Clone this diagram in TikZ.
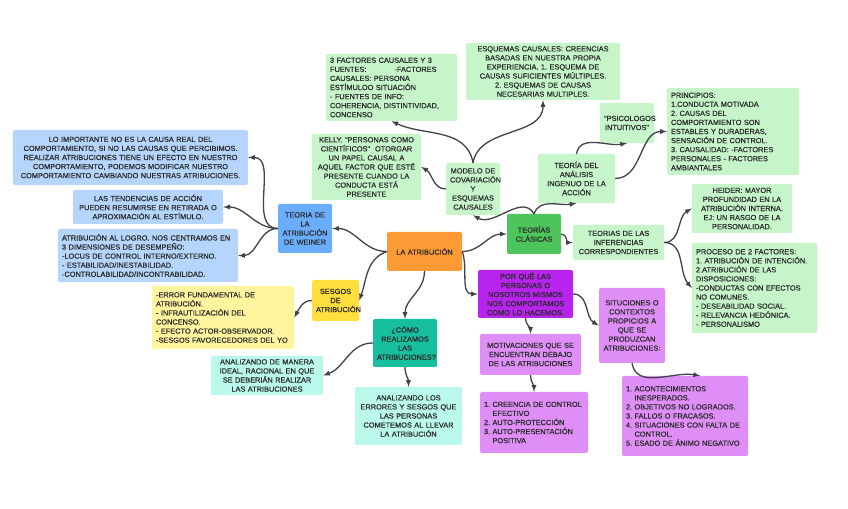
\documentclass[tikz,border=0pt]{standalone}
\usepackage{fontspec}
\usepackage{tikz}
\usetikzlibrary{calc}
\newfontfamily\cardfont{Liberation Sans}[BoldFont={Liberation Sans}, BoldFeatures={FakeBold=0.6}]
\definecolor{lgreen}{HTML}{C5F5C8}
\definecolor{dgreen}{HTML}{4EC45C}
\definecolor{orng}{HTML}{FD9A36}
\definecolor{dblue}{HTML}{6BADFD}
\definecolor{lblue}{HTML}{B5D5FD}
\definecolor{dyellow}{HTML}{FEDF3E}
\definecolor{lyellow}{HTML}{FFF59E}
\definecolor{dteal}{HTML}{17BF9F}
\definecolor{lteal}{HTML}{B9F8EA}
\definecolor{dpurple}{HTML}{B823EE}
\definecolor{lpurple}{HTML}{DF8EF7}
\definecolor{ink}{HTML}{2B2B2B}
\definecolor{wire}{HTML}{3E424B}
\newcommand{\numbox}[1]{\makebox[8.5bp][l]{#1}}
\frenchspacing
\begin{document}
\begin{tikzpicture}[x=1bp, y=1bp,
		card/.style={rounded corners=2bp, inner xsep=4bp, inner ysep=2bp, text=ink,
			font=\cardfont\bfseries\fontsize{7.4}{9.1}\selectfont},
		link/.style={-latex, draw=wire, line width=1.3bp}]
			\useasboundingbox (0,0) rectangle (848,509);
			% centro
			\node[card, fill=orng, text width=67bp, minimum height=39bp, align=center] (atrib) at (424.5,257.5) {LA ATRIBUCIÓN};
			% teorias clasicas
			\node[card, fill=dgreen, text width=46bp, minimum height=40bp, align=center] (clasicas) at (534,275) {TEORÍAS\\CLÁSICAS};
			\node[card, fill=lgreen, text width=46bp, minimum height=52bp, align=center] (modelo) at (473,320) {MODELO DE\\COVARIACIÓN\\Y\\ESQUEMAS\\CAUSALES};
			\node[card, fill=lgreen, text width=123bp, minimum height=67bp, align=left] (factores) at (391.5,421.5) {3 FACTORES CAUSALES Y 3\\FUENTES:\hspace{28bp}-FACTORES\\CAUSALES: PERSONA\\ESTÍMULOO SITUACIÓN\\- FUENTES DE INFO:\\COHERENCIA, DISTINTIVIDAD,\\CONCENSO};
			\node[card, fill=lgreen, text width=146bp, minimum height=57bp, align=center] (esquemas) at (543,437.5) {ESQUEMAS CAUSALES: CREENCIAS\\BASADAS EN NUESTRA PROPIA\\EXPERIENCIA. 1. ESQUEMA DE\\CAUSAS SUFICIENTES MÚLTIPLES.\\2. ESQUEMAS DE CAUSAS\\NECESARIAS MULTIPLES.};
			\node[card, fill=lgreen, text width=101bp, minimum height=66bp, align=center] (kelly) at (366.5,342) {KELLY. "PERSONAS COMO\\CIENTÍFICOS"\ \ OTORGAR\\UN PAPEL CAUSAL A\\AQUEL FACTOR QUE ESTÉ\\PRESENTE CUANDO LA\\CONDUCTA ESTÁ\\PRESENTE};
			\node[card, fill=lgreen, text width=69bp, minimum height=49bp, align=center] (analisis) at (576.5,330.5) {TEORÍA DEL\\ANÁLISIS\\INGENUO DE LA\\ACCIÓN};
			\node[card, fill=lgreen, text width=46bp, minimum height=40bp, align=center] (psicologos) at (627,386) {"PSICOLOGOS\\INTUITIVOS"};
			\node[card, fill=lgreen, text width=124bp, minimum height=87bp, align=left] (principios) at (733,377.5) {PRINCIPIOS:\\1.CONDUCTA MOTIVADA\\2. CAUSAS DEL\\COMPORTAMIENTO SON\\ESTABLES Y DURADERAS,\\SENSACIÓN DE CONTROL.\\3. CAUSALIDAD: -FACTORES\\PERSONALES - FACTORES\\AMBIANTALES};
			\node[card, fill=lgreen, text width=83bp, minimum height=35bp, align=center] (inferencias) at (618.5,266.5) {TEORIAS DE LAS\\INFERENCIAS\\CORRESPONDIENTES};
			\node[card, fill=lgreen, text width=92bp, minimum height=49bp, align=center] (heider) at (742,300.5) {HEIDER: MAYOR\\PROFUNDIDAD EN LA\\ATRIBUCIÓN INTERNA.\\EJ: UN RASGO DE LA\\PERSONALIDAD.};
			\node[card, fill=lgreen, text width=117bp, minimum height=90bp, align=left] (proceso) at (754.5,221) {PROCESO DE 2 FACTORES:\\1. ATRIBUCIÓN DE INTENCIÓN.\\2.ATRIBUCIÓN DE LAS\\DISPOSICIONES:\\-CONDUCTAS CON EFECTOS\\NO COMUNES.\\- DESEABILIDAD SOCIAL.\\- RELEVANCIA HEDÓNICA.\\- PERSONALISMO};
			% weiner
			\node[card, fill=dblue, text width=46bp, minimum height=49bp, align=center] (weiner) at (305,280.5) {TEORIA DE\\LA\\ATRIBUCIÓN\\DE WEINER};
			\node[card, fill=lblue, text width=227bp, minimum height=55bp, align=center] (importante) at (130.5,351.5) {LO IMPORTANTE NO ES LA CAUSA REAL DEL\\COMPORTAMIENTO, SI NO LAS CAUSAS QUE PERCIBIMOS.\\REALIZAR ATRIBUCIONES TIENE UN EFECTO EN NUESTRO\\COMPORTAMIENTO, PODEMOS MODIFICAR NUESTRO\\COMPORTAMIENTO CAMBIANDO NUESTRAS ATRIBUCIONES.};
			\node[card, fill=lblue, text width=142bp, minimum height=34bp, align=center] (tendencias) at (148,302) {LAS TENDENCIAS DE ACCIÓN\\PUEDEN RESUMIRSE EN RETIRADA O\\APROXIMACIÓN AL ESTÍMULO.};
			\node[card, fill=lblue, text width=172bp, minimum height=53bp, align=left] (logro) at (148,253.5) {ATRIBUCIÓN AL LOGRO. NOS CENTRAMOS EN\\3 DIMENSIONES DE DESEMPEÑO:\\-LOCUS DE CONTROL INTERNO/EXTERNO.\\- ESTABILIDAD/INESTABILIDAD.\\-CONTROLABILIDAD/INCONTRABILIDAD.};
			% sesgos
			\node[card, fill=dyellow, text width=39bp, minimum height=41bp, align=center] (sesgos) at (335.5,208.5) {SESGOS\\DE\\ATRIBUCIÓN};
			\node[card, fill=lyellow, text width=134bp, minimum height=63bp, align=left] (errorf) at (223,191.5) {-ERROR FUNDAMENTAL DE\\ATRIBUCIÓN.\\- INFRAUTILIZACIÓN DEL\\CONCENSO.\\- EFECTO ACTOR-OBSERVADOR.\\-SESGOS FAVORECEDORES DEL YO};
			% como
			\node[card, fill=dteal, text width=56bp, minimum height=48bp, align=center] (como) at (405,166) {¿CÓMO\\REALIZAMOS\\LAS\\ATRIBUCIONES?};
			\node[card, fill=lteal, text width=104bp, minimum height=39bp, align=center] (ideal) at (267,133.5) {ANALIZANDO DE MANERA\\IDEAL, RACIONAL EN QUE\\SE DEBERIÁN REALIZAR\\LAS ATRIBUCIONES};
			\node[card, fill=lteal, text width=99bp, minimum height=58bp, align=center] (errores) at (408.5,93) {ANALIZANDO LOS\\ERRORES Y SESGOS QUE\\LAS PERSONAS\\COMETEMOS AL LLEVAR\\LA ATRIBUCIÓN};
			% por que
			\node[card, fill=dpurple, text width=87bp, minimum height=48bp, align=center] (porque) at (525.5,215) {POR QUÉ LAS\\PERSONAS O\\NOSOTROS MISMOS\\NOS COMPORTAMOS\\COMO LO HACEMOS.};
			\node[card, fill=lpurple, text width=93bp, minimum height=41bp, align=center] (motivaciones) at (530.5,154.5) {MOTIVACIONES QUE SE\\ENCUENTRAN DEBAJO\\DE LAS ATRIBUCIONES};
			\node[card, fill=lpurple, text width=100bp, minimum height=61bp, align=left] (creencia) at (534,86.5) {\numbox{1.}CREENCIA DE CONTROL\\\hspace*{8.5bp}EFECTIVO\\\numbox{2.}AUTO-PROTECCIÓN\\\numbox{3.}AUTO-PRESENTACIÓN\\\hspace*{8.5bp}POSITIVA};
			\node[card, fill=lpurple, text width=58bp, minimum height=75bp, align=center] (situciones) at (632,183.5) {SITUCIONES O\\CONTEXTOS\\PROPICIOS A\\QUE SE\\PRODUZCAN\\ATRIBUCIONES:};
			\node[card, fill=lpurple, text width=118bp, minimum height=80bp, align=left] (acontec) at (685,93) {\numbox{1.}ACONTECIMIENTOS\\\hspace*{8.5bp}INESPERADOS.\\\numbox{2.}OBJETIVOS NO LOGRADOS.\\\numbox{3.}FALLOS O FRACASOS.\\\numbox{4.}SITUACIONES CON FALTA DE\\\hspace*{8.5bp}CONTROL.\\\numbox{5.}ESADO DE ÁNIMO NEGATIVO};
			% conectores
			\draw[link] (atrib.west) to[out=180,in=0] (weiner.east);
			\draw[link] (atrib.west) to[out=200,in=70] (sesgos.east);
			\draw[link] (atrib.south) to[out=-90,in=90] (como.north);
			\draw[link] (atrib.east) to[out=0,in=180] (clasicas.west);
			\draw[link] (atrib.east) to[out=-70,in=180] (porque.west);
			\draw[link] (weiner.west) to[out=180,in=0] (importante.east);
			\draw[link] (weiner.west) to[out=180,in=0] (tendencias.east);
			\draw[link] (weiner.west) to[out=180,in=0] (logro.east);
			\draw[link] (sesgos.west) to[out=180,in=60] (errorf.east);
			\draw[link] (como.west) to[out=180,in=20] (ideal.east);
			\draw[link] (como.south) to[out=-90,in=90] (errores.north);
			\draw[link] (clasicas.north) to[out=120,in=-30] (modelo.south);
			\draw[link] (clasicas.north) to[out=70,in=190] (analisis.south);
			\draw[link] (clasicas.east) to[out=0,in=180] (inferencias.west);
			\draw[link] (modelo.north) to[out=100,in=-25] (factores.south);
			\draw[link] (modelo.north) to[out=80,in=-90] (esquemas.south);
			\draw[link] (modelo.west) to[out=180,in=-30] (kelly.east);
			\draw[link] (analisis.north) to[out=80,in=190] (psicologos.south);
			\draw[link] (analisis.east) to[out=0,in=180] (principios.west);
			\draw[link] (inferencias.east) to[out=0,in=210] (heider.west);
			\draw[link] (inferencias.east) to[out=0,in=130] (proceso.west);
			\draw[link] (porque.south) to[out=-90,in=90] (motivaciones.north);
			\draw[link] (porque.east) to[out=0,in=150] (situciones.west);
			\draw[link] (motivaciones.south) to[out=-90,in=90] (creencia.north);
			\draw[link] (situciones.south) to[out=-80,in=170] ($(acontec.north)+(15,0)$);
		\end{tikzpicture}
\end{document}
